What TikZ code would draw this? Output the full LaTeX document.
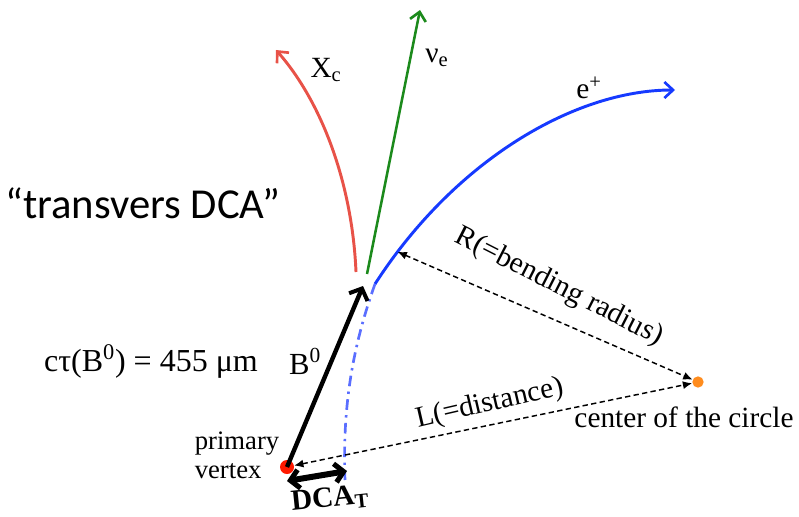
\documentclass[tikz,border=0pt]{standalone}
\usepackage{fontspec}
\setmainfont{Liberation Serif}
\newfontfamily\calibri{Carlito}
\usetikzlibrary{arrows.meta}
\definecolor{trkred}{RGB}{232,82,72}
\definecolor{trkgreen}{RGB}{28,138,28}
\definecolor{trkblue}{RGB}{22,58,255}
\definecolor{trkbluelt}{RGB}{90,110,255}
\definecolor{dotred}{RGB}{255,25,0}
\definecolor{dotorange}{RGB}{255,140,30}
\tikzset{
  lbl/.style={inner sep=0pt, font=\fontsize{22}{26}\selectfont},
  dotnode/.style={circle, inner sep=0pt, minimum size=10.5pt},
  track/.style={line width=2.2pt, -{Straight Barb[length=6.5pt,width=12pt,line width=2pt]}},
  dimline/.style={line width=1.1pt, dash pattern=on 4pt off 2.5pt, {Latex[length=7pt,width=6pt]}-{Latex[length=7pt,width=6pt]}}
}
\begin{document}
\begin{tikzpicture}[x=0.75pt,y=-0.75pt]
\useasboundingbox (0,0) rectangle (799,517);

% dots
\node[dotnode, fill=dotred] (pv) at (287,467) {};
\node[dotnode, fill=dotorange, minimum size=8.5pt] (cc) at (698,382) {};

% tracks
\coordinate (xcs) at (356,272);
\coordinate (xce) at (276,50);
\draw[track, trkred] (xcs) .. controls (352,180) and (320,100) .. (xce);

\coordinate (nus) at (367,274);
\coordinate (nue) at (420,10);
\draw[track, trkgreen, line width=1.9pt] (nus) -- (nue);

\coordinate (eps) at (375,284);
\coordinate (epe) at (675,90);
\draw[track, trkblue] (eps) .. controls (455,160) and (575,90) .. coordinate[pos=0.09] (rend) (epe);
\draw[trkbluelt, line width=2pt, dash pattern=on 8pt off 4pt on 1.8pt off 4pt]
  (eps) .. controls (355,340) and (342,400) .. (345,480);

% B0 arrow
\coordinate (b0tip) at (363,286);
\draw[line width=3.3pt, -{Straight Barb[length=7pt,width=15pt,line width=3pt]}] (pv.center) -- (b0tip);

% DCA_T arrow
\coordinate (dcaL) at (287,481);
\coordinate (dcaR) at (347,471);
\draw[line width=4.5pt, {Straight Barb[length=6.5pt,width=14pt,line width=3.8pt]}-{Straight Barb[length=6.5pt,width=14pt,line width=3.8pt]}] (dcaL) -- (dcaR);

% dimension lines
\draw[dimline] (rend) -- (cc);
\draw[dimline] (pv) -- (cc);

% labels
\node[inner sep=0pt, font=\calibri\fontsize{32}{38}\selectfont] (tdca) at (143,203) {“transvers DCA”};
\node[lbl, font=\fontsize{24}{28}\selectfont] (ctau) at (151,361) {cτ(B\textsuperscript{0}) = 455 μm};
\node[lbl, font=\fontsize{23}{28}\selectfont] (b0lbl) at (305,361) {B\textsuperscript{0}};
\node[lbl, font=\fontsize{20}{22}\selectfont, align=left] (pvlbl) at (237,455) {primary\\vertex};
\node[lbl, font=\bfseries\fontsize{22}{26}\selectfont, rotate=6] (dcalbl) at (330,499) {DCA\textsubscript{T}};
\node[lbl] (xclbl) at (326,70) {X\textsubscript{c}};
\node[lbl] (nulbl) at (437,58) {ν\textsubscript{e}};
\node[lbl] (eplbl) at (589,88) {e\textsuperscript{+}};
\node[lbl, rotate=-27] (rlbl) at (559,287) {R(=bending radius)};
\node[lbl, rotate=13] (llbl) at (490,404) {L(=distance)};
\node[lbl] (cclbl) at (684,417) {center of the circle};
\end{tikzpicture}
\end{document}
